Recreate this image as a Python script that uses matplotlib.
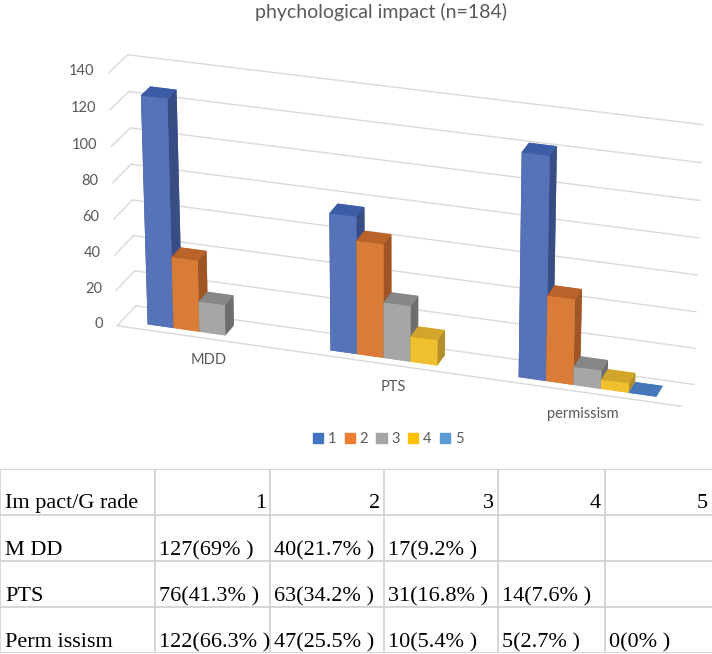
# 3D clustered column chart (Excel style) with the results table underneath

import numpy as np
import matplotlib
matplotlib.use("Agg")
import matplotlib.pyplot as plt
from matplotlib.patches import Patch

categories = ["MDD", "PTS", "permissism"]
grades = ["1", "2", "3", "4", "5"]

# counts per grade for each category (None = empty cell, no bar)
grade1 = [127, 76, 122]
grade2 = [40, 63, 47]
grade3 = [17, 31, 10]
grade4 = [None, 14, 5]
grade5 = [None, None, 0]

z_ticks = [0, 20, 40, 60, 80, 100, 120, 140]

table_header = ["Im pact/G rade", "1", "2", "3", "4", "5"]
table_rows = ["M DD", "PTS", "Perm issism"]
table_cells = [
    ["127(69% )", "40(21.7% )", "17(9.2% )", "", ""],
    ["76(41.3% )", "63(34.2% )", "31(16.8% )", "14(7.6% )", ""],
    ["122(66.3% )", "47(25.5% )", "10(5.4% )", "5(2.7% )", "0(0% )"],
]

LEGEND_COLORS = ["#4472C4", "#ED7D31", "#A5A5A5", "#FFC000", "#5B9BD5"]
FRONT = ["#5672B8", "#D87C37", "#A6A6A6", "#F1C02E", "#4F7FC0"]
TOP = ["#3D5CA6", "#B9622A", "#878787", "#D2A62A", "#4677B8"]
SIDE = ["#394D85", "#A05526", "#6E6E6E", "#B48F2C", "#3E6AA5"]
GRID = "#D9D9D9"
TEXT = "#595959"

fig = plt.figure(figsize=(7.12, 6.54), dpi=100)

# ---- 3D chart ----
# 3D axes are forced square, so make the box wide and tall enough not to clip
ax = fig.add_axes([-0.012, 0.025, 1.12, 1.219], projection="3d", computed_zorder=False)
ax.set_facecolor((1, 1, 1, 0))

series = [grade1, grade2, grade3, grade4, grade5]
cat_w = 7.0          # 5 bars + gap
n_cat = len(categories)
x_max = n_cat * cat_w
y_max = 2.0

# collect bars, then draw left to right so nearer bars cover farther ones
bars = []
for j, vals in enumerate(series):
    for i, v in enumerate(vals):
        if v is None:
            continue
        bars.append((i * cat_w + (cat_w - 5) / 2 + j, v, j))
bars.sort(key=lambda b: b[0])

# grid lines on back wall and left wall
for z in z_ticks:
    ax.plot([0, x_max], [y_max, y_max], [z, z], color=GRID, lw=1, zorder=1)
    ax.plot([0, 0], [0, y_max], [z, z], color=GRID, lw=1, zorder=1)
    ax.text(-0.55, 0, z, str(z), ha="right", va="center", color=TEXT,
            fontsize=10.5, family="Lato", zorder=3)
ax.plot([0, x_max], [0, 0], [0, 0], color=GRID, lw=1, zorder=1)

for k, (x, v, j) in enumerate(bars):
    # bar3d face order: bottom, top, front(-y), back(+y), left(-x), right(+x)
    cols = [FRONT[j], TOP[j], FRONT[j], FRONT[j], SIDE[j], SIDE[j]]
    ax.bar3d(x, 0.5, 0, 1.0, 1.0, v, color=cols, shade=False, zorder=2 + k * 0.01)

for i, c in enumerate(categories):
    ax.text(i * cat_w + cat_w / 2, 0, -12, c, ha="center", va="center",
            color=TEXT, fontsize=10.5, family="Lato", zorder=3)

ax.set_xlim(0, x_max)
ax.set_ylim(0, y_max)
ax.set_zlim(0, 140)
ax.set_box_aspect((18.75, 1.6, 8.8), zoom=0.807)
ax.view_init(elev=24, azim=-72)
ax.set_proj_type("persp", focal_length=0.9)
ax.set_axis_off()

fig.text(0.535, 1 - 12 / 654, "phychological impact (n=184)", ha="center",
         va="center", color=TEXT, fontsize=14, family="Lato")

handles = [Patch(color=c) for c in LEGEND_COLORS]
fig.legend(handles, grades, loc="center", bbox_to_anchor=(388 / 712, 1 - 439 / 654),
           ncol=5, frameon=False, handlelength=0.7, handleheight=0.7,
           handletextpad=0.3, columnspacing=0.6,
           prop={"family": "Lato", "size": 10.5}, labelcolor=TEXT)

# ---- table ----
tax = fig.add_axes([0, 1 / 654, 1, 184 / 654])
tax.set_xlim(0, 712)
tax.set_ylim(184, 0)
tax.axis("off")

col_edges = [0, 155, 270, 384, 498, 605, 712]
row_h = 46
n_rows = len(table_rows) + 1
for k in range(n_rows + 1):
    tax.plot([0, 712], [k * row_h, k * row_h], color="#D0D0D0", lw=1.2)
for e in col_edges[:-1]:
    tax.plot([e, e], [0, n_rows * row_h], color="#D0D0D0", lw=1.2)

tfont = {"family": "Liberation Serif", "size": 16, "color": "black"}
tax.text(5, row_h - 7, table_header[0], ha="left", va="baseline", **tfont)
for c in range(1, 6):
    tax.text(col_edges[c + 1] - 4, row_h - 7, table_header[c], ha="right",
             va="baseline", **tfont)
for r, lab in enumerate(table_rows):
    base = (r + 2) * row_h - 6
    tax.text(5, base, lab, ha="left", va="baseline", **tfont)
    for c, s in enumerate(table_cells[r]):
        tax.text(col_edges[c + 1] + 4, base, s, ha="left", va="baseline", **tfont)

fig.savefig("out.png", dpi=100)
